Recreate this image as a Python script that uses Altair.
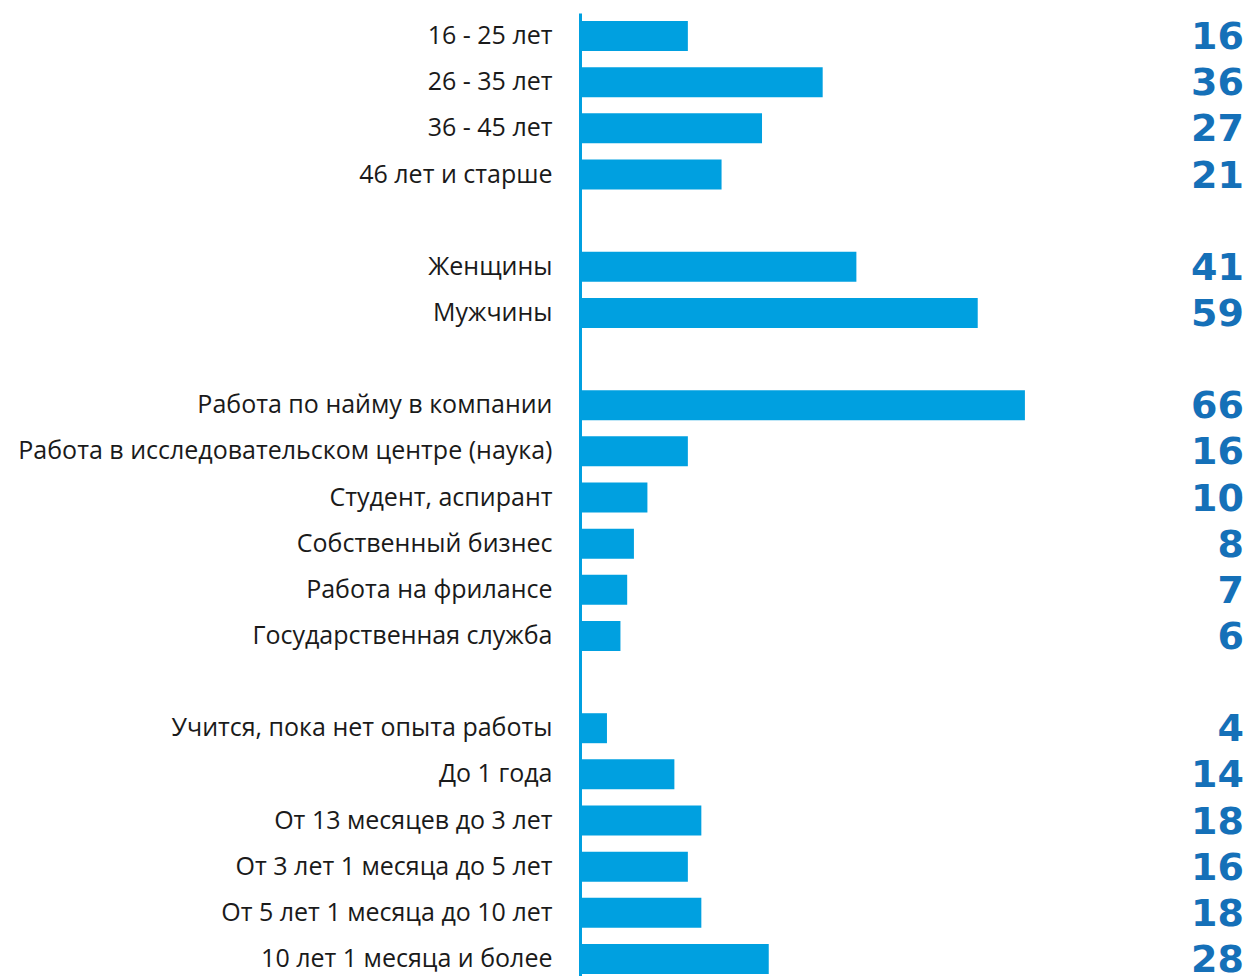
import altair as alt
import pandas as pd

# Row order including blank spacer rows between groups
rows = [
    "16 - 25 лет", "26 - 35 лет", "36 - 45 лет", "46 лет и старше", " ",
    "Женщины", "Мужчины", "  ",
    "Работа по найму в компании", "Работа в исследовательском центре (наука)",
    "Студент, аспирант", "Собственный бизнес", "Работа на фрилансе",
    "Государственная служба", "   ",
    "Учится, пока нет опыта работы", "До 1 года", "От 13 месяцев до 3 лет",
    "От 3 лет 1 месяца до 5 лет", "От 5 лет 1 месяца до 10 лет",
    "10 лет 1 месяца и более",
]

categories = [
    "16 - 25 лет", "26 - 35 лет", "36 - 45 лет", "46 лет и старше",
    "Женщины", "Мужчины",
    "Работа по найму в компании", "Работа в исследовательском центре (наука)",
    "Студент, аспирант", "Собственный бизнес", "Работа на фрилансе",
    "Государственная служба",
    "Учится, пока нет опыта работы", "До 1 года", "От 13 месяцев до 3 лет",
    "От 3 лет 1 месяца до 5 лет", "От 5 лет 1 месяца до 10 лет",
    "10 лет 1 месяца и более",
]
values = [16, 36, 27, 21, 41, 59, 66, 16, 10, 8, 7, 6, 4, 14, 18, 16, 18, 28]
x_max = 98.5

df = pd.DataFrame({"category": categories, "value": values})

y_scale = alt.Scale(domain=rows, paddingInner=0.35, paddingOuter=0.175)

y_enc = alt.Y(
    "category:N",
    sort=rows,
    scale=y_scale,
    axis=alt.Axis(
        title=None,
        ticks=False,
        domain=True,
        domainColor="#00a0e0",
        domainWidth=3,
        labelFont="Open Sans",
        labelFontSize=25,
        labelColor="#1a1a1a",
        labelPadding=28,
        labelLimit=600,
    ),
)

x_scale = alt.Scale(domain=[0, x_max], nice=False, zero=True)

bars = alt.Chart(df).mark_bar(color="#00a0e0").encode(
    y=y_enc,
    x=alt.X("value:Q", scale=x_scale, axis=None),
)

labels = alt.Chart(df).mark_text(
    align="right",
    baseline="middle",
    dy=2,
    font="DejaVu Sans",
    fontWeight="bold",
    fontSize=38,
    color="#1570b8",
).encode(
    y=alt.Y("category:N", sort=rows),
    x=alt.datum(x_max),
    text=alt.Text("value:Q"),
)

chart = (
    alt.layer(bars, labels)
    .properties(
        width=664,
        height=969,
        autosize=alt.AutoSizeParams(type="none"),
        padding={"left": 572, "top": 5, "right": 0, "bottom": 0},
    )
    .configure_view(stroke=None)
)

chart.save("out.html", embed_options={"renderer": "svg", "actions": False})
